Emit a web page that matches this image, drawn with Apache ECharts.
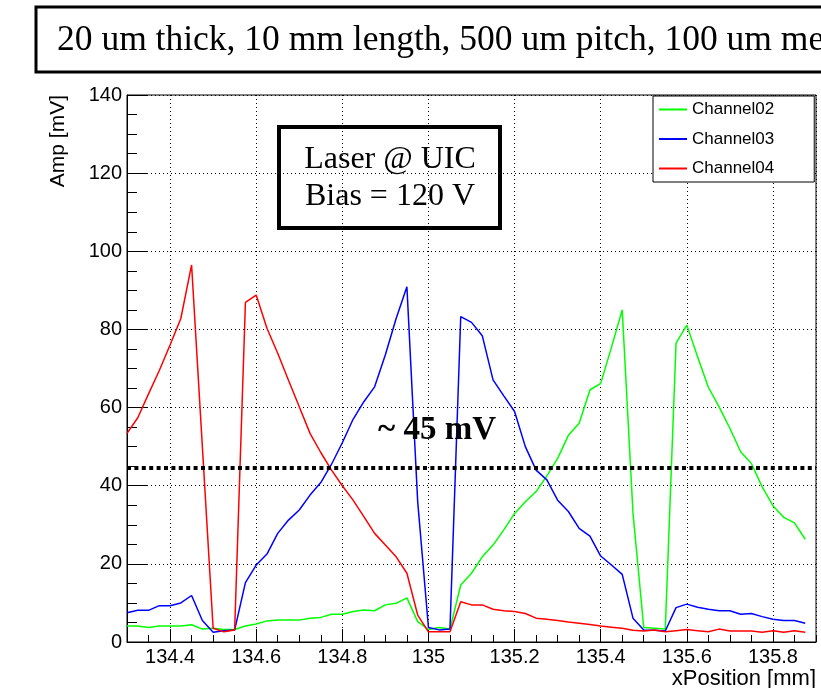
<!DOCTYPE html>
<html>
<head>
<meta charset="utf-8">
<script src="https://cdn.jsdelivr.net/npm/echarts@6/dist/echarts.min.js"></script>
<style>
  html, body { margin: 0; padding: 0; background: #fff; }
  #chart { width: 821px; height: 688px; }
</style>
</head>
<body>
<div id="chart"></div>
<script>
// Laser scan across three adjacent strips: amplitude vs. laser x position
const xPosition = [
  134.300, 134.325, 134.350, 134.375, 134.400, 134.425, 134.450, 134.475,
  134.500, 134.525, 134.550, 134.575, 134.600, 134.625, 134.650, 134.675,
  134.700, 134.725, 134.750, 134.775, 134.800, 134.825, 134.850, 134.875,
  134.900, 134.925, 134.950, 134.975, 135.000, 135.025, 135.050, 135.075,
  135.100, 135.125, 135.150, 135.175, 135.200, 135.225, 135.250, 135.275,
  135.300, 135.325, 135.350, 135.375, 135.400, 135.425, 135.450, 135.475,
  135.500, 135.525, 135.550, 135.575, 135.600, 135.625, 135.650, 135.675,
  135.700, 135.725, 135.750, 135.775, 135.800, 135.825, 135.850, 135.875
];

const channel02 = [
  4.1, 4.1, 3.7, 4.1, 4.1, 4.1, 4.4, 3.3,
  3.5, 3.2, 3.2, 4.1, 4.6, 5.4, 5.6, 5.6,
  5.6, 6.1, 6.3, 7.1, 7.1, 7.8, 8.2, 8.0,
  9.5, 9.9, 11.3, 5.2, 3.2, 3.7, 3.3, 14.6,
  17.6, 21.8, 24.8, 28.7, 32.9, 35.9, 38.5, 42.5,
  47.0, 52.9, 56.0, 64.5, 66.2, 75.4, 85.0, 33.0,
  3.7, 3.5, 3.3, 76.5, 81.1, 73.0, 65.2, 60.2,
  54.7, 48.7, 45.7, 39.7, 34.9, 31.9, 30.5, 26.3
];

const channel03 = [
  7.5, 8.1, 8.1, 9.3, 9.3, 10.0, 11.9, 5.5,
  2.5, 2.9, 3.1, 15.2, 19.7, 22.5, 27.8, 31.2,
  33.8, 37.6, 40.8, 45.5, 51.0, 57.0, 61.5, 65.3,
  73.5, 82.8, 90.9, 36.0, 3.7, 3.1, 3.3, 83.3,
  81.8, 78.4, 67.1, 63.0, 59.0, 50.0, 44.0, 41.5,
  36.3, 33.4, 29.1, 27.1, 22.0, 19.7, 17.3, 6.1,
  3.1, 3.0, 2.8, 8.8, 9.7, 8.9, 8.4, 8.0,
  8.0, 7.1, 7.3, 6.5, 5.8, 5.5, 5.5, 4.8
];

const channel04 = [
  53.4, 57.4, 63.5, 69.5, 76.0, 82.8, 96.5, 50.0,
  3.5, 2.6, 3.1, 86.9, 88.8, 80.3, 73.9, 67.0,
  60.2, 53.4, 48.5, 44.0, 40.0, 36.3, 32.1, 27.8,
  24.8, 21.8, 17.6, 6.9, 2.6, 2.6, 2.6, 10.3,
  9.5, 9.5, 8.4, 8.0, 7.8, 7.3, 6.1, 5.8,
  5.5, 5.1, 4.8, 4.5, 4.1, 3.8, 3.5, 3.0,
  2.8, 3.1, 2.6, 2.9, 3.2, 2.9, 2.6, 3.3,
  2.8, 2.8, 2.8, 2.5, 2.9, 2.5, 2.9, 2.5
];

const seriesNames = ['Channel02', 'Channel03', 'Channel04'];
const seriesColors = ['#00ff00', '#0000ff', '#ff0000'];
const seriesValues = [channel02, channel03, channel04];

// Crossing level between neighbouring strips
const crossLevel = 44.5;

const titleText = '20 um thick, 10 mm length, 500 um pitch, 100 um metal';
const infoLines = ['Laser @ UIC', 'Bias = 120 V'];
const crossLabel = '~ 45 mV';

const sans = '"Liberation Sans", Arial, Helvetica, sans-serif';
const serif = '"Liberation Serif", "Times New Roman", serif';

const chart = echarts.init(document.getElementById('chart'), null, { renderer: 'canvas' });

const dotted = { color: '#000', width: 1, type: [1, 3] };

const series = seriesNames.map((name, k) => ({
  name,
  type: 'line',
  xAxisIndex: 0,
  yAxisIndex: 0,
  data: xPosition.map((x, i) => [x, seriesValues[k][i]]),
  symbol: 'none',
  showSymbol: false,
  smooth: false,
  lineStyle: { color: seriesColors[k], width: 1.5 },
  itemStyle: { color: seriesColors[k] },
  z: 3 + k,
  emphasis: { disabled: true }
}));

// Thick dotted level line across the frame
series[2].markLine = {
  silent: true,
  symbol: 'none',
  label: { show: false },
  lineStyle: { color: '#000', width: 4, type: [4, 3.4], cap: 'butt' },
  data: [{ yAxis: crossLevel }],
  z: 10
};

chart.setOption({
  animation: false,
  backgroundColor: '#fff',
  grid: {
    left: 127, top: 95, right: 5, bottom: 46,
    show: true, borderColor: '#000', borderWidth: 1,
    backgroundColor: 'transparent',
    containLabel: false
  },
  xAxis: [
    {
      type: 'value',
      min: 134.3, max: 135.9,
      splitNumber: 8, minInterval: 0.2, maxInterval: 0.2,
      axisLine: { show: true, onZero: false, lineStyle: { color: '#000', width: 1 } },
      axisTick: { show: true, inside: true, length: 13, lineStyle: { color: '#000', width: 1 } },
      axisLabel: {
        show: true, color: '#000', fontFamily: sans, fontSize: 20, margin: 5,
        showMinLabel: false, showMaxLabel: false
      },
      splitLine: { show: true, lineStyle: dotted }
    },
    {
      type: 'value',
      min: 134.3, max: 135.9, interval: 0.05,
      position: 'bottom',
      axisLine: { show: false, onZero: false },
      axisTick: { show: true, inside: true, length: 7, lineStyle: { color: '#000', width: 1 } },
      axisLabel: { show: false },
      splitLine: { show: false }
    }
  ],
  yAxis: {
    type: 'value',
    min: 0, max: 140, interval: 20,
    axisLine: { show: true, onZero: false, lineStyle: { color: '#000', width: 1 } },
    axisTick: { show: true, inside: true, length: 21, lineStyle: { color: '#000', width: 1 } },
    minorTick: { show: true, splitNumber: 4, length: 10, lineStyle: { color: '#000', width: 1 } },
    axisLabel: { color: '#000', fontFamily: sans, fontSize: 20, margin: 5 },
    splitLine: { show: true, lineStyle: dotted }
  },
  legend: {
    data: seriesNames,
    orient: 'vertical',
    left: 653, top: 96,
    padding: [5, 40, 5, 6],
    itemGap: 12.5,
    icon: 'rect',
    itemWidth: 28, itemHeight: 2,
    backgroundColor: '#fff',
    borderColor: '#000', borderWidth: 1, borderRadius: 0,
    selectedMode: false,
    textStyle: { color: '#000', fontFamily: sans, fontSize: 17, lineHeight: 17 }
  },
  series,
  graphic: [
    {
      type: 'rect', z: 20,
      shape: { x: 36, y: 7, width: 820, height: 65 },
      style: { fill: '#fff', stroke: '#000', lineWidth: 3 }
    },
    {
      type: 'text', z: 21, x: 57, y: 41,
      style: { text: titleText, fill: '#000', fontFamily: serif, fontSize: 35.5, align: 'left', verticalAlign: 'middle' }
    },
    {
      type: 'rect', z: 20,
      shape: { x: 279, y: 127, width: 221, height: 101 },
      style: { fill: 'none', stroke: '#000', lineWidth: 4 }
    },
    {
      type: 'text', z: 21, x: 390, y: 160,
      style: { text: infoLines[0], fill: '#000', fontFamily: serif, fontSize: 32, align: 'center', verticalAlign: 'middle' }
    },
    {
      type: 'text', z: 21, x: 390, y: 197,
      style: { text: infoLines[1], fill: '#000', fontFamily: serif, fontSize: 32, align: 'center', verticalAlign: 'middle' }
    },
    {
      type: 'text', z: 21, x: 437, y: 430,
      style: { text: crossLabel, fill: '#000', fontFamily: serif, fontWeight: 'bold', fontSize: 33, align: 'center', verticalAlign: 'middle' }
    },
    {
      type: 'text', z: 21, x: 58, y: 95, rotation: Math.PI / 2,
      style: { text: 'Amp [mV]', fill: '#000', fontFamily: sans, fontSize: 21, align: 'right', verticalAlign: 'middle' }
    },
    {
      type: 'text', z: 21, x: 816, y: 679,
      style: { text: 'xPosition [mm]', fill: '#000', fontFamily: sans, fontSize: 22, align: 'right', verticalAlign: 'middle' }
    }
  ]
});
</script>
</body>
</html>
